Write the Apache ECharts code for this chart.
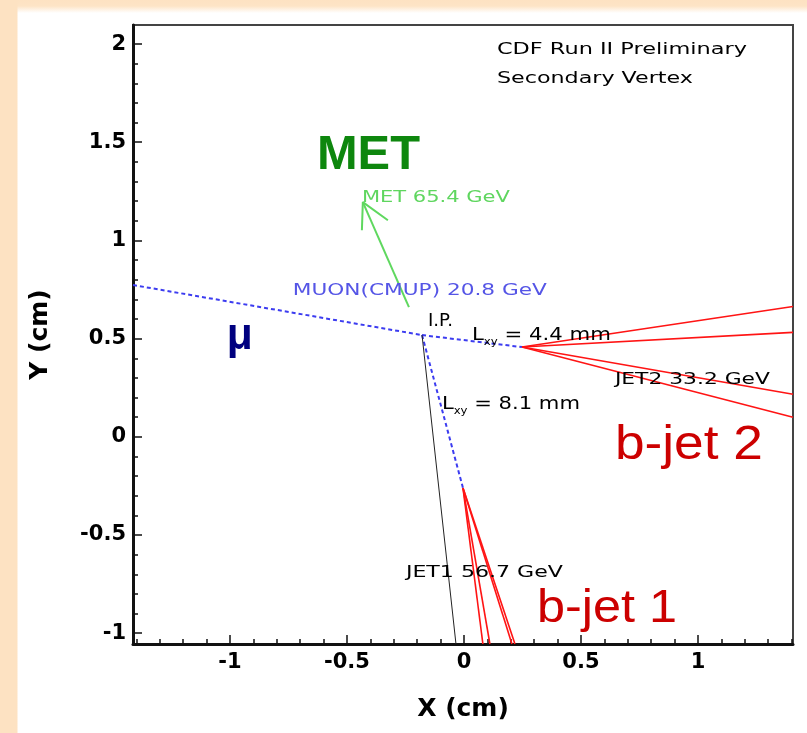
<!DOCTYPE html>
<html><head><meta charset="utf-8">
<script src="https://cdn.jsdelivr.net/npm/echarts@6/dist/echarts.min.js"></script>
<style>
html,body{margin:0;padding:0;}
body{width:807px;height:733px;overflow:hidden;background:
 linear-gradient(to right, #fde2c2 0, #fde2c2 17px, rgba(255,255,255,0) 18px),
 linear-gradient(to bottom, #fde2c2 0, #fde4c6 6px, #ffffff 13px);}
#chart{width:807px;height:733px;}
</style></head><body><div id="chart"></div>
<script>
// ---------------- data (cm) ----------------
const xRange = [-1.414, 1.406];
const yRange = [-1.055, 2.097];
const xMajorTicks = [-1, -0.5, 0, 0.5, 1];
const xMinorTicks = [-1.4,-1.3,-1.2,-1.1,-1.0,-0.9,-0.8,-0.7,-0.6,-0.5,-0.4,-0.3,-0.2,-0.1,0,0.1,0.2,0.3,0.4,0.5,0.6,0.7,0.8,0.9,1.0,1.1,1.2,1.3,1.4];
const yMajorTicks = [-1, -0.5, 0, 0.5, 1, 1.5, 2];
const yMinorTicks = [-1.0,-0.9,-0.8,-0.7,-0.6,-0.5,-0.4,-0.3,-0.2,-0.1,0,0.1,0.2,0.3,0.4,0.5,0.6,0.7,0.8,0.9,1.0,1.1,1.2,1.3,1.4,1.5,1.6,1.7,1.8,1.9,2.0];

const ipVertex = [-0.179, 0.518];
const sv1 = [-0.004, -0.261];
const sv2 = [0.248, 0.457];
const muonTrackStart = [-1.414, 0.773];
const jet1AxisEnd = [-0.034, -1.055];
const bjet1TrackEnds = [[0.081, -1.055], [0.111, -1.055], [0.205, -1.055], [0.218, -1.055]];
const bjet2TrackEnds = [[1.406, 0.664], [1.406, 0.532], [1.406, 0.217], [1.406, 0.100]];
const metTail = [-0.235, 0.660];
const metHead = [-0.432, 1.195];
const metBarbs = [[-0.436, 1.052], [-0.325, 1.103]];

const annotationTexts = ['CDF Run II Preliminary', 'Secondary Vertex', 'MET', 'MET 65.4 GeV',
  'MUON(CMUP) 20.8 GeV', 'I.P.', 'L_xy = 4.4 mm', 'JET2 33.2 GeV', 'L_xy = 8.1 mm',
  'b-jet 2', 'JET1 56.7 GeV', 'b-jet 1', 'μ'];
const annotationAnchors = [[0.141, 1.970], [0.141, 1.824], [-0.628, 1.430], [-0.436, 1.216],
  [-0.731, 0.742], [-0.154, 0.589], [0.034, 0.518], [0.645, 0.289], [-0.094, 0.167],
  [0.645, -0.047], [-0.248, -0.695], [0.312, -0.878], [-1.013, 0.508]];

// ---------------- styles ----------------
const DV = '"DejaVu Sans"', LS = '"Liberation Sans"';
const annotationStyles = [
  {font: '16px ' + DV, color: '#000', width: 250},
  {font: '16px ' + DV, color: '#000', width: 196},
  {font: 'bold 48px ' + LS, color: '#0e870e', width: 103},
  {font: '16px ' + DV, color: '#5fd65f', width: 148},
  {font: '16px ' + DV, color: '#5555e6', width: 254},
  {font: '17px ' + DV, color: '#000', width: 25},
  {font: '18px ' + DV, sub: '10px ' + DV, color: '#000', width: 139},
  {font: '16px ' + DV, color: '#000', width: 155},
  {font: '18px ' + DV, sub: '10px ' + DV, color: '#000', width: 138},
  {font: '48px ' + LS, color: '#cc0000', width: 148},
  {font: '16px ' + DV, color: '#000', width: 157},
  {font: '46px ' + LS, color: '#cc0000', width: 140},
  {font: 'bold 44px ' + LS, color: '#00007f', width: 26}
];

const mctx = document.createElement('canvas').getContext('2d');
function textWidth(t, f) { mctx.font = f; return mctx.measureText(t).width; }
function segmentsOf(text, st) {
  if (text.indexOf('_') >= 0) {
    const parts = text.split('_');
    const sub = parts[1].slice(0, 2), rest = parts[1].slice(2);
    return [{text: parts[0], font: st.font, dy: 0}, {text: sub, font: st.sub, dy: 7}, {text: rest, font: st.font, dy: 0}];
  }
  return [{text: text, font: st.font, dy: 0}];
}

const dotted = {color: '#3c3cf0', width: 2, type: [4, 3]};
const red = {color: '#ff1414', width: 1.6};
const green = {color: '#5fd85f', width: 2};
const black = {color: '#222', width: 1};

function seg(pts, style) {
  return {type: 'line', data: pts, symbol: 'none', showSymbol: false, lineStyle: style,
          silent: true, animation: false, xAxisIndex: 0, yAxisIndex: 0, z: 3};
}

const series = [];
series.push(seg([muonTrackStart, ipVertex], dotted));
series.push(seg([ipVertex, sv2], dotted));
series.push(seg([ipVertex, sv1], dotted));
series.push(seg([ipVertex, jet1AxisEnd], black));
bjet1TrackEnds.forEach(e => series.push(seg([sv1, e], red)));
bjet2TrackEnds.forEach(e => series.push(seg([sv2, e], red)));
series.push(seg([metTail, metHead], green));
series.push(seg([metBarbs[0], metHead, metBarbs[1]], green));

series.push({
  type: 'custom', coordinateSystem: 'cartesian2d', xAxisIndex: 0, yAxisIndex: 0,
  silent: true, animation: false, z: 5,
  encode: {x: 0, y: 1},
  data: annotationAnchors.map((a, i) => [a[0], a[1], i]),
  renderItem: function (params, api) {
    const i = api.value(2);
    const p = api.coord([api.value(0), api.value(1)]);
    const st = annotationStyles[i];
    const segs = segmentsOf(annotationTexts[i], st);
    let x = 0; const children = [];
    segs.forEach(s => {
      children.push({type: 'text', x: x, y: s.dy,
        style: {text: s.text, font: s.font, fill: st.color, align: 'left', verticalAlign: 'middle'}});
      x += textWidth(s.text, s.font);
    });
    return {type: 'group', x: p[0], y: p[1], scaleX: st.width / x, children: children};
  }
});

const labelStyle = {fontFamily: 'DejaVu Sans', fontWeight: 'bold', fontSize: 21, color: '#000'};
const nameStyle = {fontFamily: 'DejaVu Sans', fontWeight: 'bold', fontSize: 25, color: '#000'};

const option = {
  backgroundColor: 'transparent',
  animation: false,
  grid: {left: 133, right: 14, top: 25, bottom: 89, show: true, borderColor: '#444', borderWidth: 2, backgroundColor: '#fff'},
  xAxis: [{
    type: 'value', min: xRange[0], max: xRange[1], position: 'bottom',
    name: 'X (cm)', nameLocation: 'middle', nameGap: 53, nameTextStyle: nameStyle,
    axisLine: {show: true, onZero: false, lineStyle: {color: '#111', width: 3}},
    axisTick: {show: true, inside: true, length: 9, customValues: xMajorTicks, lineStyle: {color: '#111', width: 1.5}},
    axisLabel: Object.assign({show: true, margin: 8, customValues: xMajorTicks}, labelStyle),
    splitLine: {show: false}
  }, {
    type: 'value', min: xRange[0], max: xRange[1], position: 'bottom', offset: 0,
    axisLine: {show: false, onZero: false},
    axisTick: {show: true, inside: true, length: 5, customValues: xMinorTicks, lineStyle: {color: '#111', width: 1.5}},
    axisLabel: {show: false}, splitLine: {show: false}
  }],
  yAxis: [{
    type: 'value', min: yRange[0], max: yRange[1], position: 'left',
    name: 'Y (cm)', nameLocation: 'middle', nameGap: 80, nameTextStyle: nameStyle,
    axisLine: {show: true, onZero: false, lineStyle: {color: '#111', width: 3}},
    axisTick: {show: true, inside: true, length: 9, customValues: yMajorTicks, lineStyle: {color: '#111', width: 1.5}},
    axisLabel: Object.assign({show: true, margin: 7, customValues: yMajorTicks}, labelStyle),
    splitLine: {show: false}
  }, {
    type: 'value', min: yRange[0], max: yRange[1], position: 'left', offset: 0,
    axisLine: {show: false, onZero: false},
    axisTick: {show: true, inside: true, length: 5, customValues: yMinorTicks, lineStyle: {color: '#111', width: 1.5}},
    axisLabel: {show: false}, splitLine: {show: false}
  }],
  series: series
};

const chart = echarts.init(document.getElementById('chart'), null, {renderer: 'canvas'});
chart.setOption(option);
</script></body></html>
